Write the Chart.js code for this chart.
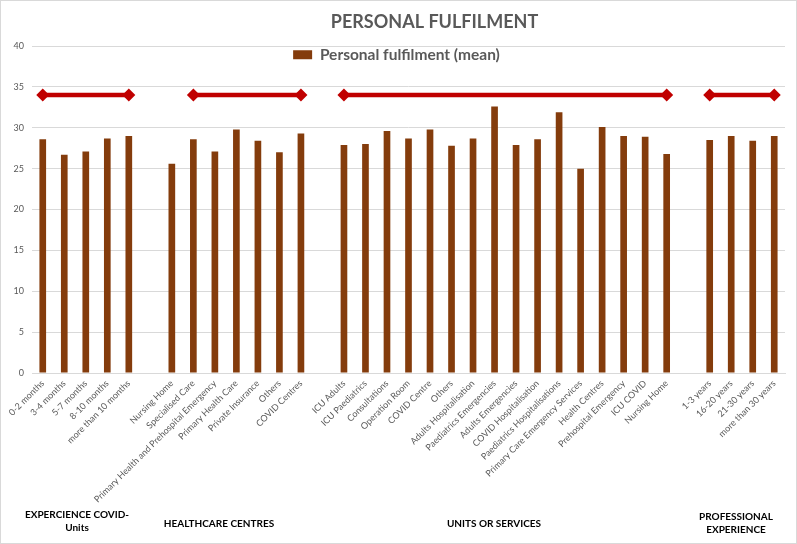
<!DOCTYPE html>
<html>
<head>
<meta charset="utf-8">
<script src="https://cdn.jsdelivr.net/npm/chart.js@4.4.1/dist/chart.umd.min.js"></script>
<style>
  html, body { margin: 0; padding: 0; background: #fff; }
  #wrap { width: 797px; height: 544px; position: relative; }
</style>
</head>
<body>
<div id="wrap"><canvas id="fulfilChart"></canvas></div>
<script>
// Data dibaca dari gambar rujukan
const expLabels = ['0-2 months', '3-4 months', '5-7 months', '8-10 months', 'more than 10 months'];
const expValues = [28.6, 26.7, 27.1, 28.7, 29.0];

const centreLabels = ['Nursing Home', 'Specialised Care', 'Primary Health and Prehospital Emergency', 'Primary Health Care', 'Private Insurance', 'Others', 'COVID Centres'];
const centreValues = [25.6, 28.6, 27.1, 29.8, 28.4, 27.0, 29.3];

const unitLabels = ['ICU Adults', 'ICU Paediatrics', 'Consultations', 'Operation Room', 'COVID Centre', 'Others', 'Adults Hospitalisation', 'Paediatrics Emergencies', 'Adults Emergencies', 'COVID Hospitalisation', 'Paediatrics Hospitalisations', 'Primary Care Emergency Services', 'Health Centres', 'Prehospital Emergency', 'ICU COVID', 'Nursing Home'];
const unitValues = [27.9, 28.0, 29.6, 28.7, 29.8, 27.8, 28.7, 32.6, 27.9, 28.6, 31.9, 25.0, 30.1, 29.0, 28.9, 26.8];

const yearsLabels = ['1-3 years', '16-20 years', '21-30 years', 'more than 30 years'];
const yearsValues = [28.5, 29.0, 28.4, 29.0];

const groupNames = [['EXPERCIENCE COVID-', 'Units'], ['HEALTHCARE CENTRES'], ['UNITS OR SERVICES'], ['PROFESSIONAL', 'EXPERIENCE']];
const bracketLevel = 34;
const bracketStartOffset = [0, 1, 0, 0]; // garis merah kumpulan 2 bermula pada 'Specialised Care'
const yTicks = [0, 5, 10, 15, 20, 25, 30, 35, 40];

// 1. Gabung kumpulan dengan ruang kosong di antara
const groups = [
    [expLabels, expValues],
    [centreLabels, centreValues],
    [unitLabels, unitValues],
    [yearsLabels, yearsValues]
];
const labels = [], barData = [], lineData = [], endPoints = [];
groups.forEach(([lbls, vals], g) => {
    if (g > 0) { labels.push(''); barData.push(null); lineData.push(null); }
    const start = labels.length;
    lbls.forEach((l, i) => {
        labels.push(l);
        barData.push(vals[i]);
        lineData.push(i >= bracketStartOffset[g] ? bracketLevel : null);
    });
    endPoints.push(start + bracketStartOffset[g], labels.length - 1);
});

const FONT = "Lato, 'Open Sans', sans-serif";
const GREY = '#595959';

// 2. Plugin: bingkai, legenda bertindih plot, label kumpulan
const framePlugin = {
    id: 'frame',
    beforeLayout(chart) {
        // legenda tak ambil ruang — dilukis di dalam kawasan plot macam Excel
        const lg = chart.legend;
        if (lg && !lg._noSpace) {
            const fit = lg.fit.bind(lg);
            lg.fit = function () { fit(); this.height = 0; };
            lg._noSpace = true;
        }
    },
    afterLayout(chart) {
        const t = chart.titleBlock;
        if (t) { t.left += 52; }
        const lg = chart.legend;
        if (lg) { lg.height = 30; lg.bottom = lg.top + 30; }
    },
    beforeDraw(chart) {
        const c = chart.ctx;
        c.save();
        c.fillStyle = '#fff';
        c.fillRect(0, 0, chart.width, chart.height);
        c.strokeStyle = '#d9d9d9';
        c.lineWidth = 1;
        c.strokeRect(0.5, 0.5, chart.width - 1, chart.height - 1);
        c.restore();
    },
    afterDraw(chart) {
        const c = chart.ctx;
        const pos = [[77, 515], [219, 524], [494, 524], [736, 517]];
        c.save();
        c.fillStyle = '#000';
        c.font = 'bold 10px ' + FONT;
        c.textAlign = 'center';
        c.textBaseline = 'middle';
        groupNames.forEach((lines, g) => {
            lines.forEach((t, k) => c.fillText(t, pos[g][0], pos[g][1] + k * 13));
        });
        c.restore();
    }
};

new Chart(document.getElementById('fulfilChart'), {
    data: {
        labels: labels,
        datasets: [
            {
                type: 'line',
                label: 'bracket',
                data: lineData,
                borderColor: '#C00000',
                backgroundColor: '#C00000',
                borderWidth: 4.5,
                pointStyle: 'rectRot',
                pointRadius: ctx => endPoints.includes(ctx.dataIndex) ? 6.5 : 0,
                pointHoverRadius: ctx => endPoints.includes(ctx.dataIndex) ? 6.5 : 0,
                pointBorderWidth: 0,
                spanGaps: false,
                order: 0
            },
            {
                type: 'bar',
                label: 'Personal fulfilment (mean)',
                data: barData,
                backgroundColor: '#843C0C',
                borderWidth: 0,
                categoryPercentage: 1,
                barPercentage: 0.31,
                order: 1
            }
        ]
    },
    options: {
        responsive: true,
        maintainAspectRatio: false,
        animation: false,
        layout: { padding: { left: 8, right: 12, top: 0, bottom: 0 } },
        plugins: {
            title: {
                display: true,
                text: 'PERSONAL FULFILMENT',
                fullSize: false,
                color: GREY,
                font: { family: FONT, size: 18, weight: 'bold' },
                padding: { top: 11.2, bottom: 13.2 }
            },
            legend: {
                position: 'top',
                labels: {
                    filter: item => item.text !== 'bracket',
                    boxWidth: 19,
                    boxHeight: 9,
                    padding: 1,
                    color: GREY,
                    font: { family: FONT, size: 15.5, weight: 'bold' }
                }
            },
            tooltip: { enabled: false }
        },
        scales: {
            x: {
                grid: { display: false, drawTicks: false },
                border: { color: '#d9d9d9' },
                ticks: {
                    autoSkip: false,
                    minRotation: 45,
                    maxRotation: 45,
                    padding: 5,
                    color: GREY,
                    font: { family: FONT, size: 9 }
                },
                afterFit(scale) { scale.height = 544 - 373; }
            },
            y: {
                min: 0,
                max: 40,
                afterBuildTicks(scale) { scale.ticks = yTicks.map(v => ({ value: v })); },
                grid: { color: '#d9d9d9', drawTicks: false },
                border: { display: false },
                ticks: {
                    padding: 8,
                    color: GREY,
                    font: { family: FONT, size: 9 }
                },
                afterFit(scale) { scale.width = 24; }
            }
        }
    },
    plugins: [framePlugin]
});
</script>
</body>
</html>
